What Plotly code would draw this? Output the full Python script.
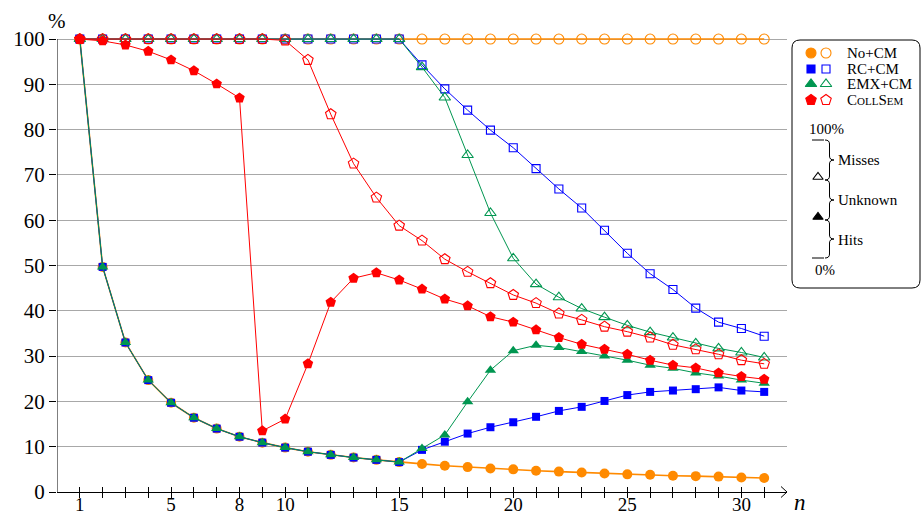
import plotly.graph_objects as go

# ---------------- data ----------------
n = list(range(1, 32))
tick_vals = list(range(1, 32))
tick_text_map = {1: "1", 5: "5", 8: "8", 10: "10", 15: "15", 20: "20", 25: "25", 30: "30"}
y_ticks = [0, 10, 20, 30, 40, 50, 60, 70, 80, 90, 100]

shared_start = [100, 49.7, 33.0, 24.7, 19.7, 16.4, 14.0, 12.2, 10.9, 9.8, 8.9, 8.2, 7.6, 7.1, 6.6]

nocm_hits = shared_start + [6.2, 5.8, 5.5, 5.2, 5.0, 4.7, 4.5, 4.3, 4.1, 3.9, 3.8, 3.6, 3.5, 3.4, 3.2, 3.1]
nocm_top = [100] * 31

rc_hits = shared_start + [9.3, 11.1, 12.9, 14.3, 15.4, 16.6, 17.9, 18.8, 20.1, 21.4, 22.1, 22.4, 22.7, 23.1, 22.4, 22.1]
rc_top = [100] * 15 + [94.3, 89.0, 84.3, 79.9, 76.0, 71.4, 66.9, 62.7, 57.8, 52.7, 48.2, 44.7, 40.6, 37.5, 36.1, 34.4]

emx_hits = shared_start + [9.6, 12.6, 19.9, 26.9, 31.2, 32.4, 31.9, 31.0, 30.0, 29.1, 28.0, 27.3, 26.3, 25.6, 24.7, 24.0]
emx_top = [100] * 15 + [93.8, 87.1, 74.4, 61.6, 51.6, 45.9, 43.0, 40.5, 38.6, 36.8, 35.3, 34.1, 32.8, 31.7, 30.8, 29.7]

coll_hits = [100, 99.6, 98.7, 97.3, 95.4, 93.0, 90.1, 87.0, 13.5, 16.1, 28.3, 41.9, 47.2, 48.4, 46.8,
             44.8, 42.6, 41.1, 38.7, 37.5, 35.8, 34.1, 32.6, 31.5, 30.4, 29.1, 28.0, 27.4, 26.3, 25.5, 24.9]
coll_top = [100] * 9 + [99.7, 95.4, 83.4, 72.5, 65.0, 58.8, 55.5, 51.4, 48.6, 46.1, 43.5, 41.7, 39.4,
                        38.0, 36.5, 35.4, 34.1, 32.5, 31.5, 30.4, 29.1, 28.3]

series_names = ["No+CM", "RC+CM", "EMX+CM", "CollSem"]

# ---------------- styling ----------------
ORANGE = "#FF8A00"
BLUE = "#0000FF"
GREEN = "#009650"
RED = "#FF0000"
FONT = "Liberation Serif"

W, H = 923, 516
L, T, B = 57, 30, 24
PW = W - L          # paper width in px
PH = H - T - B      # paper height in px


def pxx(px):
    return (px - L) / PW


def pyy(py):
    return (H - B - py) / PH


fig = go.Figure()

specs = [
    (nocm_top, nocm_hits, ORANGE, "circle", 10, 1.6),
    (rc_top, rc_hits, BLUE, "square", 8, 1.0),
    (emx_top, emx_hits, GREEN, "triangle-up", 10, 1.0),
    (coll_top, coll_hits, RED, "pentagon", 11, 1.0),
]
for top, hits, col, sym, size, lw in specs:
    fig.add_trace(go.Scatter(x=n, y=top, mode="lines+markers", cliponaxis=False,
                             line=dict(color=col, width=lw),
                             marker=dict(symbol=sym + "-open", size=size, color=col,
                                         line=dict(color=col, width=1.1)),
                             showlegend=False, hoverinfo="skip"))
    fig.add_trace(go.Scatter(x=n, y=hits, mode="lines+markers", cliponaxis=False,
                             line=dict(color=col, width=lw),
                             marker=dict(symbol=sym, size=size, color=col, line=dict(width=0)),
                             showlegend=False, hoverinfo="skip"))

# ----- legend (drawn in its own pixel-scaled axes) -----
leg_rows_y = [53, 69, 84, 100]
leg_syms = [("circle", 10, ORANGE), ("square", 8, BLUE), ("triangle-up", 10, GREEN), ("pentagon", 11, RED)]
for (sym, size, col), yy in zip(leg_syms, leg_rows_y):
    fig.add_trace(go.Scatter(x=[811, 826], y=[yy, yy], mode="markers", xaxis="x3", yaxis="y3",
                             cliponaxis=False,
                             marker=dict(symbol=[sym, sym + "-open"], size=size, color=col,
                                         line=dict(color=col, width=1.1)),
                             showlegend=False, hoverinfo="skip"))
fig.add_trace(go.Scatter(x=[818, 818], y=[177, 217], mode="markers", xaxis="x3", yaxis="y3",
                         cliponaxis=False,
                         marker=dict(symbol=["triangle-up-open", "triangle-up"], size=9, color="black",
                                     line=dict(color="black", width=1.1)),
                         showlegend=False, hoverinfo="skip"))

LEG_FONT = dict(family=FONT, size=15, color="black")
annotations = []
for i, (name, yy) in enumerate(zip(series_names, leg_rows_y)):
    f = dict(LEG_FONT)
    if i == 3:
        f["variant"] = "small-caps"
    annotations.append(dict(x=845, y=yy, xref="x3", yref="y3", text=name, showarrow=False,
                            xanchor="left", yanchor="middle", font=f))
for txt, xx, yy, anchor in [("100%", 826, 129, "center"), ("0%", 825, 270, "center"),
                            ("Misses", 836, 160, "left"), ("Unknown", 836, 200, "left"),
                            ("Hits", 836, 240, "left")]:
    annotations.append(dict(x=xx, y=yy, xref="x3", yref="y3", text=txt, showarrow=False,
                            xanchor=anchor, yanchor="middle", font=LEG_FONT))

annotations.append(dict(x=pxx(57), y=pyy(21), xref="paper", yref="paper", text="%", showarrow=False,
                        xanchor="center", yanchor="middle", font=dict(family=FONT, size=21, color="black")))
annotations.append(dict(x=pxx(800), y=pyy(502), xref="paper", yref="paper", text="<i>n</i>", showarrow=False,
                        xanchor="center", yanchor="middle", font=dict(family=FONT, size=23, color="black")))

shapes = []
# legend box with rounded corners
x0, y0, x1, y1, r = 792, 40, 920, 288, 8
box = (f"M {x0+r},{y0} L {x1-r},{y0} Q {x1},{y0} {x1},{y0+r} L {x1},{y1-r} Q {x1},{y1} {x1-r},{y1} "
       f"L {x0+r},{y1} Q {x0},{y1} {x0},{y1-r} L {x0},{y0+r} Q {x0},{y0} {x0+r},{y0} Z")
shapes.append(dict(type="path", path=box, xref="x3", yref="y3", line=dict(color="black", width=1)))
# scale ends
shapes.append(dict(type="line", x0=812, x1=824, y0=140, y1=140, xref="x3", yref="y3", line=dict(color="black", width=1)))
shapes.append(dict(type="line", x0=812, x1=824, y0=258, y1=258, xref="x3", yref="y3", line=dict(color="black", width=1)))


def brace(a, ya, yb, w=9, rr=4):
    m = (ya + yb) / 2
    h = a + w / 2
    return (f"M {a},{ya} Q {h},{ya} {h},{ya+rr} L {h},{m-rr} Q {h},{m} {a+w},{m} "
            f"Q {h},{m} {h},{m+rr} L {h},{yb-rr} Q {h},{yb} {a},{yb}")


for ya, yb in [(140, 180), (180, 220), (220, 258)]:
    shapes.append(dict(type="path", path=brace(825, ya, yb), xref="x3", yref="y3",
                       line=dict(color="black", width=1)))

# y axis line and x-axis arrow head
shapes.append(dict(type="line", x0=0, x1=0, y0=0, y1=100, xref="x", yref="y", line=dict(color="black", width=1)))
shapes.append(dict(type="path", path=f"M {pxx(781)},{pyy(486.5)} L {pxx(787)},{pyy(492)} L {pxx(781)},{pyy(497.5)}",
                   xref="paper", yref="paper", line=dict(color="black", width=1)))

xdom = [0, (787 - L) / PW]
fig.update_layout(
    width=W, height=H,
    margin=dict(l=L, r=0, t=T, b=B, pad=0, autoexpand=False),
    paper_bgcolor="white", plot_bgcolor="white",
    font=dict(family=FONT, color="black"),
    xaxis=dict(domain=xdom, range=[0, 32], tickmode="array", tickvals=tick_vals,
               ticktext=[tick_text_map.get(v, "") for v in tick_vals],
               ticks="inside", ticklen=5, tickcolor="black", tickwidth=1, automargin=False,
               ticklabelstandoff=-5,
               showline=True, linecolor="black", linewidth=1, showgrid=False, zeroline=False,
               tickfont=dict(family=FONT, size=19, color="black")),
    xaxis2=dict(domain=xdom, range=[0, 32], overlaying="x", anchor="y", side="bottom",
                tickmode="array", tickvals=tick_vals, ticks="outside", ticklen=5, tickcolor="black",
                showticklabels=False, showline=False, showgrid=False, zeroline=False, automargin=False),
    yaxis=dict(domain=[0, 1], range=[0, 102], tickmode="array", tickvals=y_ticks,
               ticks="outside", ticklen=7, tickcolor="black", tickwidth=1, automargin=False,
               showline=False, showgrid=True, gridcolor="#a8a8a8", gridwidth=1, zeroline=False,
               tickfont=dict(family=FONT, size=21, color="black")),
    xaxis3=dict(domain=[pxx(791), 1], range=[791, 923], visible=False, anchor="y3"),
    yaxis3=dict(domain=[pyy(292), pyy(34)], range=[292, 34], visible=False, anchor="x3"),
    annotations=annotations,
    shapes=shapes,
)
fig.add_trace(go.Scatter(x=[None], y=[None], xaxis="x2", yaxis="y", showlegend=False, hoverinfo="skip"))

fig.write_html("out.html", config={"displayModeBar": False},
               post_script="document.body.style.margin='0px';document.body.style.overflow='hidden';")
